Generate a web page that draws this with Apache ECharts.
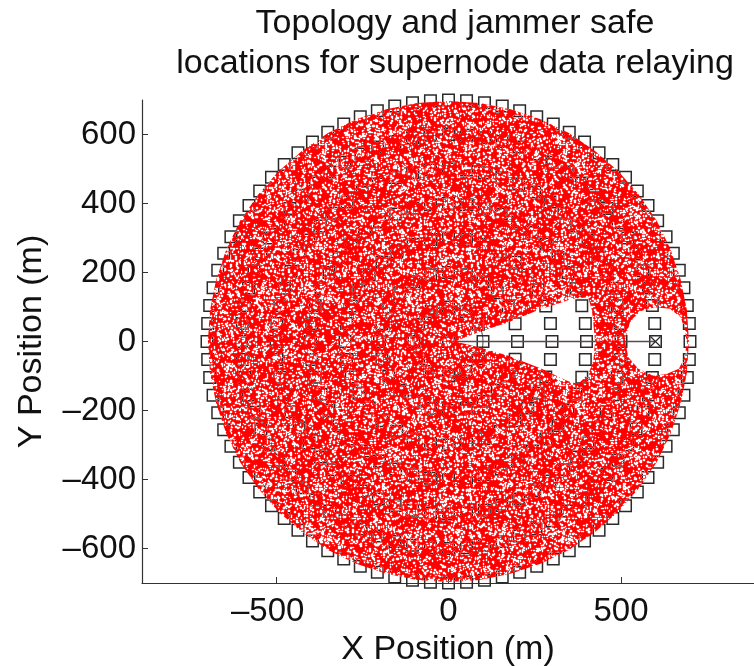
<!DOCTYPE html>
<html><head><meta charset="utf-8">
<style>html,body{margin:0;padding:0;background:#fff}#c{width:754px;height:666px}</style>
<script src="https://cdn.jsdelivr.net/npm/echarts@6/dist/echarts.min.js"></script>
</head><body><div id="c"></div>
<script>
const xTicks = [-500, 0, 500];
const yTicks = [-600, -400, -200, 0, 200, 400, 600];
const ring100 = [0,30,60,90,120,150,180,210,240,270,300,330];
const ring200 = [0,15,30,45,60,75,90,105,120,135,150,165,180,195,210,225,240,255,270,285,300,315,330,345];
const ring300 = [0,10,20,30,40,50,60,70,80,90,100,110,120,130,140,150,160,170,180,190,200,210,220,230,240,250,260,270,280,290,300,310,320,330,340,350];
const ring400 = [0,7.5,15,22.5,30,37.5,45,52.5,60,67.5,75,82.5,90,97.5,105,112.5,120,127.5,135,142.5,150,157.5,165,172.5,180,187.5,195,202.5,210,217.5,225,232.5,240,247.5,255,262.5,270,277.5,285,292.5,300,307.5,315,322.5,330,337.5,345,352.5];
const ring500 = [0,6,12,18,24,30,36,42,48,54,60,66,72,78,84,90,96,102,108,114,120,126,132,138,144,150,156,162,168,174,180,186,192,198,204,210,216,222,228,234,240,246,252,258,264,270,276,282,288,294,300,306,312,318,324,330,336,342,348,354];
const ring600 = [0,5,10,15,20,25,30,35,40,45,50,55,60,65,70,75,80,85,90,95,100,105,110,115,120,125,130,135,140,145,150,155,160,165,170,175,180,185,190,195,200,205,210,215,220,225,230,235,240,245,250,255,260,265,270,275,280,285,290,295,300,305,310,315,320,325,330,335,340,345,350,355];
const ring700 = [0,4.29,8.57,12.86,17.14,21.43,25.71,30,34.29,38.57,42.86,47.14,51.43,55.71,60,64.29,68.57,72.86,77.14,81.43,85.71,90,94.29,98.57,102.86,107.14,111.43,115.71,120,124.29,128.57,132.86,137.14,141.43,145.71,150,154.29,158.57,162.86,167.14,171.43,175.71,180,184.29,188.57,192.86,197.14,201.43,205.71,210,214.29,218.57,222.86,227.14,231.43,235.71,240,244.29,248.57,252.86,257.14,261.43,265.71,270,274.29,278.57,282.86,287.14,291.43,295.71,300,304.29,308.57,312.86,317.14,321.43,325.71,330,334.29,338.57,342.86,347.14,351.43,355.71];
const rangeCircleAngles = [0,15,30,45,60,75,90,105,120,135,150,165,180,195,210,225,240,255,270,285,300,315,330,345,360];
const linkLine = [[0, 0], [600, 0]];
const jammer = [[600, 0]];
const outerEdge = [[697,0],[691,91],[673,180],[644,267],[604,349],[553,424],[493,493],[424,553],[349,604],[267,644],[180,673],[91,691],[0,697],[-91,691],[-180,673],[-267,644],[-349,604],[-424,553],[-493,493],[-553,424],[-604,349],[-644,267],[-673,180],[-691,91],[-697,0],[-691,-91],[-673,-180],[-644,-267],[-604,-349],[-553,-424],[-493,-493],[-424,-553],[-349,-604],[-267,-644],[-180,-673],[-91,-691],[0,-697],[91,-691],[180,-673],[267,-644],[349,-604],[424,-553],[493,-493],[553,-424],[604,-349],[644,-267],[673,-180],[691,-91],[697,0]];
const jammerHoleLower = [[690,0],[686,-41],[668,-79],[632,-94],[594,-99],[550,-79],[521,-45],[512,3]];
const safeWedge = [[425,0],[420,-55],[405,-94],[376,-123],[347,-115],[270,-79],[174,-41],[86,-16],[19,0],[86,27],[174,56],[270,95],[362,124],[405,128],[416,90],[420,51],[425,0]];
const jammerHoleUpper = [[512,3],[526,56],[555,88],[599,99],[642,95],[673,70],[686,32],[690,0]];
const regionOutline = outerEdge.concat(jammerHoleLower, safeWedge, jammerHoleUpper);

// Decorative fill texture for the dense point cloud (style only, no data).
function speckleTile() {
  const size = 241, cv = document.createElement('canvas');
  cv.width = cv.height = size;
  const g = cv.getContext('2d');
  g.fillStyle = '#ff0000';
  g.fillRect(0, 0, size, size);
  let h = 12345;
  const next = () => { h = (Math.imul(h, 1664525) + 1013904223) >>> 0; return (h >>> 8) % 65536; };
  const specks = [];
  for (let i = 0; i < 7000; i++) {
    const k = next() % 4;
    specks.push([next() % size, next() % size, k === 1 || k === 3 ? 2 : 1, k >= 2 ? 2 : 1]);
  }
  g.fillStyle = 'rgba(255,255,255,0.16)';
  specks.forEach(([x, y, w, t]) => { g.fillRect(x - 1, y, w + 2, t); g.fillRect(x, y - 1, w, t + 2); });
  specks.forEach(([x, y, w, t]) => { g.clearRect(x, y, w, t); });
  return cv;
}
const speckle = speckleTile();

const polarPoints = (r, angles) => angles.map(a => [r, a]);
const squares = [].concat(polarPoints(0, [0]), polarPoints(100, ring100), polarPoints(200, ring200), polarPoints(300, ring300), polarPoints(400, ring400), polarPoints(500, ring500), polarPoints(600, ring600), polarPoints(700, ring700));

const dash = v => String(v).replace('-', '\u2013');
const FONT = 'Liberation Sans';
const axisCommon = {
  axisLine: { show: true, onZero: false, lineStyle: { color: '#333', width: 1.2 } },
  splitLine: { show: false }
};
const chart = echarts.init(document.getElementById('c'));
chart.setOption({
  animation: false,
  backgroundColor: '#fff',
  title: {
    text: 'Topology and jammer safe\nlocations for supernode data relaying',
    left: 450, top: -1, textAlign: 'center',
    textStyle: { fontFamily: FONT, fontSize: 34, fontWeight: 'normal', color: '#111', lineHeight: 40 }
  },
  grid: { left: 142, top: 100, width: 612, height: 483, outerBoundsMode: 'none' },
  xAxis: Object.assign({}, axisCommon, {
    type: 'value', min: -888, max: 885.5,
    name: 'X Position (m)', nameLocation: 'middle', nameGap: 44,
    nameTextStyle: { fontFamily: FONT, fontSize: 34, color: '#111' },
    axisTick: { show: true, inside: true, length: 6, customValues: xTicks, lineStyle: { color: '#333' } },
    axisLabel: { customValues: xTicks, formatter: v => v < 0 ? dash(v) + '\u2002' : dash(v), fontFamily: FONT, fontSize: 33, color: '#111', margin: 12 }
  }),
  yAxis: Object.assign({}, axisCommon, {
    type: 'value', min: -700, max: 700,
    name: 'Y Position (m)', nameLocation: 'middle', nameGap: 93,
    nameTextStyle: { fontFamily: FONT, fontSize: 34, color: '#111' },
    axisTick: { show: true, inside: true, length: 6, customValues: yTicks, lineStyle: { color: '#333' } },
    axisLabel: { customValues: yTicks, formatter: dash, fontFamily: FONT, fontSize: 33, color: '#111', margin: 6 }
  }),
  polar: { center: [448.5, 341.5], radius: 241.5 },
  angleAxis: { show: false, type: 'value', min: 0, max: 360, startAngle: 0, clockwise: false },
  radiusAxis: { show: false, type: 'value', min: 0, max: 700 },
  series: [
    { type: 'scatter', coordinateSystem: 'polar', data: squares, symbol: 'rect', symbolSize: 11.5, z: 2, silent: true,
      itemStyle: { color: 'rgba(0,0,0,0)', borderColor: '#2a2a2a', borderWidth: 1.5, opacity: 1 } },
    { type: 'line', coordinateSystem: 'polar', data: polarPoints(100, rangeCircleAngles), smooth: true, symbol: 'none', z: 2, silent: true,
      lineStyle: { color: '#333', width: 1 } },
    { type: 'line', data: linkLine, symbol: 'none', z: 3, silent: true, clip: false,
      lineStyle: { color: '#5a4a4a', width: 1.3 } },
    { type: 'scatter', data: jammer, symbol: 'path://M0 0L10 10M10 0L0 10', symbolSize: 10, z: 3, silent: true,
      itemStyle: { color: 'rgba(0,0,0,0)', borderColor: '#2a2a2a', borderWidth: 1.2, opacity: 1 } },
    { type: 'custom', data: regionOutline, z: 5, silent: true, clip: false,
      renderItem: function (params, api) {
        if (params.dataIndex !== 0) return null;
        const pts = regionOutline.map(p => api.coord(p));
        return { type: 'polygon', shape: { points: pts }, style: { fill: { image: speckle, repeat: 'repeat' }, stroke: null } };
      } }
  ]
});
</script></body></html>
